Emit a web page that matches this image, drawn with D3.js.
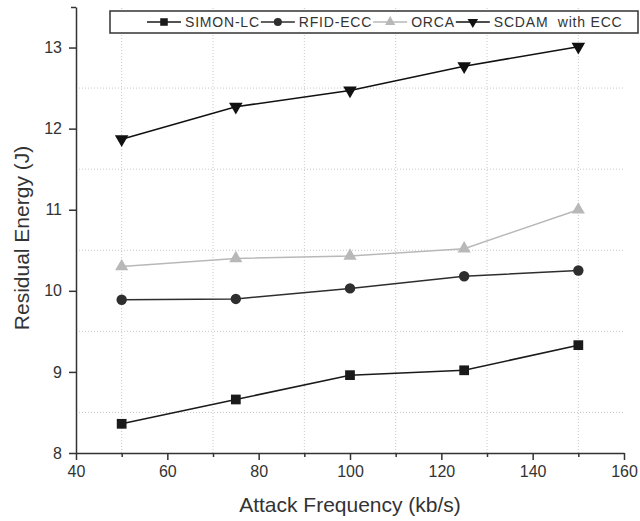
<!DOCTYPE html>
<html>
<head>
<meta charset="utf-8">
<script src="https://cdn.jsdelivr.net/npm/d3@7"></script>
<style>
  body { margin: 0; background: #fff; }
  svg { display: block; font-family: "Liberation Sans", Arial, sans-serif; }
</style>
</head>
<body>
<svg id="chart"></svg>
<script>
// data
const frequencies = [50, 75, 100, 125, 150];
const simonLC = [8.36, 8.66, 8.96, 9.02, 9.33];
const rfidECC = [9.89, 9.90, 10.03, 10.18, 10.25];
const orca = [10.30, 10.40, 10.43, 10.52, 11.00];
const scdam = [11.87, 12.27, 12.47, 12.77, 13.01];
const seriesNames = ["SIMON-LC", "RFID-ECC", "ORCA", "SCDAM  with ECC"];
const xTicks = [40, 60, 80, 100, 120, 140, 160];
const xMinor = [50, 70, 90, 110, 130, 150];
const yTicks = [8, 9, 10, 11, 12, 13];
const yMinor = [8.5, 9.5, 10.5, 11.5, 12.5];

const width = 640;
const height = 521;
const marginTop = 7;
const marginRight = 16;
const marginBottom = 68;
const marginLeft = 76;

const series = [
    { name: seriesNames[0], values: simonLC, color: "#1a1a1a", symbol: d3.symbolSquare, size: 95, rotate: 0 },
    { name: seriesNames[1], values: rfidECC, color: "#2e2e2e", symbol: d3.symbolCircle, size: 85, rotate: 0 },
    { name: seriesNames[2], values: orca, color: "#b8b8b8", symbol: d3.symbolTriangle, size: 75, rotate: 0 },
    { name: seriesNames[3], values: scdam, color: "#111", symbol: d3.symbolTriangle, size: 80, rotate: 180 }
];

const x = d3.scaleLinear()
    .domain([40, 160])
    .range([marginLeft, width - marginRight]);

const y = d3.scaleLinear()
    .domain([8, 13.5])
    .range([height - marginBottom, marginTop]);

const svg = d3.select("#chart")
    .attr("width", width)
    .attr("height", height);

// dotted grid
svg.append("g")
    .selectAll("line.v")
    .data(xMinor)
    .join("line")
    .attr("x1", d => x(d)).attr("x2", d => x(d))
    .attr("y1", y(8)).attr("y2", y(13.5))
    .attr("stroke", "#c8c8c8")
    .attr("stroke-dasharray", "1,2");

svg.append("g")
    .selectAll("line.h")
    .data(yMinor)
    .join("line")
    .attr("x1", x(40)).attr("x2", x(160))
    .attr("y1", d => y(d)).attr("y2", d => y(d))
    .attr("stroke", "#c8c8c8")
    .attr("stroke-dasharray", "1,2");

// axes
svg.append("g")
    .attr("transform", `translate(0,${height - marginBottom})`)
    .call(d3.axisBottom(x).tickValues(xTicks).tickSize(7).tickPadding(6).tickSizeOuter(0));

svg.append("g")
    .attr("transform", `translate(0,${height - marginBottom})`)
    .call(d3.axisBottom(x).tickValues(xMinor).tickSize(4).tickFormat("").tickSizeOuter(0))
    .call(g => g.select(".domain").remove());

svg.append("g")
    .attr("transform", `translate(${marginLeft},0)`)
    .call(d3.axisLeft(y).tickValues(yTicks).tickFormat(d3.format("d")).tickSize(7).tickPadding(7).tickSizeOuter(0));

svg.append("g")
    .attr("transform", `translate(${marginLeft},0)`)
    .call(d3.axisLeft(y).tickValues([13.5]).tickSize(5).tickFormat("").tickSizeOuter(0))
    .call(g => g.select(".domain").remove());

svg.selectAll(".domain, .tick line")
    .attr("stroke", "#333")
    .attr("stroke-width", 1.5);

svg.selectAll(".tick text")
    .attr("fill", "#333")
    .attr("font-size", 16);

// axis titles
svg.append("text")
    .attr("x", (marginLeft + width - marginRight) / 2)
    .attr("y", 512)
    .attr("text-anchor", "middle")
    .attr("font-size", 21)
    .attr("fill", "#333")
    .text("Attack Frequency (kb/s)");

svg.append("text")
    .attr("transform", `translate(29,${(marginTop + height - marginBottom) / 2 + 8}) rotate(-90)`)
    .attr("text-anchor", "middle")
    .attr("font-size", 21)
    .attr("fill", "#333")
    .text("Residual Energy (J)");

// lines and markers
const line = d3.line()
    .x((d, i) => x(frequencies[i]))
    .y(d => y(d));

series.forEach(s => {
    svg.append("path")
        .attr("fill", "none")
        .attr("stroke", s.color)
        .attr("stroke-width", 1.5)
        .attr("d", line(s.values));

    svg.append("g")
        .selectAll("path")
        .data(s.values)
        .join("path")
        .attr("d", d3.symbol(s.symbol, s.size))
        .attr("fill", s.color)
        .attr("transform", (d, i) => `translate(${x(frequencies[i])},${y(d)}) rotate(${s.rotate})`);
});

// legend
const legend = svg.append("g");
legend.append("rect")
    .attr("x", 110).attr("y", 11)
    .attr("width", 528).attr("height", 22)
    .attr("fill", "#fff")
    .attr("stroke", "#333")
    .attr("stroke-width", 1.5);

let lx = 147;
series.forEach(s => {
    const item = legend.append("g").attr("transform", `translate(${lx},22)`);
    item.append("line")
        .attr("x1", 0).attr("x2", 34)
        .attr("stroke", s.color)
        .attr("stroke-width", 1.5);
    item.append("path")
        .attr("d", d3.symbol(s.symbol, s.size * 0.6))
        .attr("fill", s.color)
        .attr("transform", `translate(17,0) rotate(${s.rotate})`);
    const t = item.append("text")
        .attr("x", 38)
        .attr("y", 5)
        .attr("font-size", 14)
        .attr("letter-spacing", 0.8)
        .attr("fill", "#333")
        .style("white-space", "pre")
        .text(s.name);
    lx += 38 + t.node().getComputedTextLength() + 1;
});
</script>
</body>
</html>
